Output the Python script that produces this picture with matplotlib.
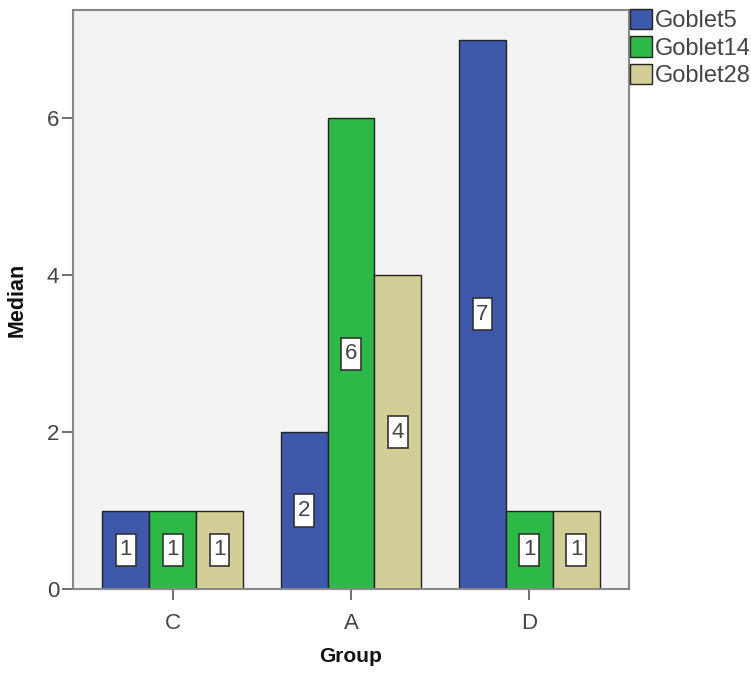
import matplotlib
matplotlib.use("Agg")
import matplotlib.pyplot as plt
from matplotlib.path import Path
import numpy as np

groups = ["C", "A", "D"]
series_names = ["Goblet5", "Goblet14", "Goblet28"]
goblet5 = [1, 2, 7]
goblet14 = [1, 6, 1]
goblet28 = [1, 4, 1]
yticks = [0, 2, 4, 6]

colors = ["#3E58AC", "#2EB848", "#D3CE97"]
txt = "#444444"
plt.rcParams['font.family'] = ['Liberation Sans', 'DejaVu Sans']


def tall_box(x0, y0, width, height, mutation_size):
    padx = 0.16 * mutation_size
    pady = 0.25 * mutation_size
    x0, y0 = x0 - padx, y0 - pady
    x1, y1 = x0 + width + 2 * padx, y0 + height + 2 * pady
    return Path([(x0, y0), (x1, y0), (x1, y1), (x0, y1), (x0, y0)], closed=True)


fig = plt.figure(figsize=(7.51, 6.75), dpi=100)
ax = fig.add_axes([73/751, 1-589/675, (629-73)/751, (589-10)/675])
ax.set_facecolor("#F3F3F3")

x = np.arange(len(groups))
w = 0.263
handles = []
for i, (vals, name) in enumerate(zip([goblet5, goblet14, goblet28], series_names)):
    bars = ax.bar(x + (i-1)*w, vals, width=w, color=colors[i], edgecolor="#222222",
                  linewidth=1.0, label=name, zorder=2)
    handles.append(bars)
    for xi, v in zip(x + (i-1)*w, vals):
        ax.text(xi, v/2, str(v), ha="center", va="center", fontsize=16, color=txt,
                zorder=3,
                bbox=dict(boxstyle=tall_box, fc="white", ec="#333333", lw=1.2))

ax.set_xlim(-0.56, 2.56)
ax.set_ylim(0, 7.38)
ax.set_xticks(x)
ax.set_xticklabels(groups)
ax.set_yticks(yticks)
ax.tick_params(axis="both", colors="#555555", labelcolor=txt, labelsize=16, length=8, width=1.2)
ax.tick_params(axis="y", pad=2)
ax.tick_params(axis="x", pad=9)
for s in ax.spines.values():
    s.set_color("#888888")
    s.set_linewidth(1.5)

ax.set_ylabel("Median", fontsize=15.5, fontweight="bold", color="#111111", labelpad=14)
ax.set_xlabel("Group", fontsize=15, fontweight="bold", color="#111111", labelpad=10)

leg = fig.legend(handles=handles, labels=series_names, loc="upper left",
                 bbox_to_anchor=(630/751, 1-9/675), frameon=False, fontsize=17,
                 handlelength=0.95, handleheight=0.95, handletextpad=0.12,
                 labelspacing=0.17, borderpad=0, borderaxespad=0)
for t in leg.get_texts():
    t.set_color(txt)

fig.savefig("out.png", dpi=100)
